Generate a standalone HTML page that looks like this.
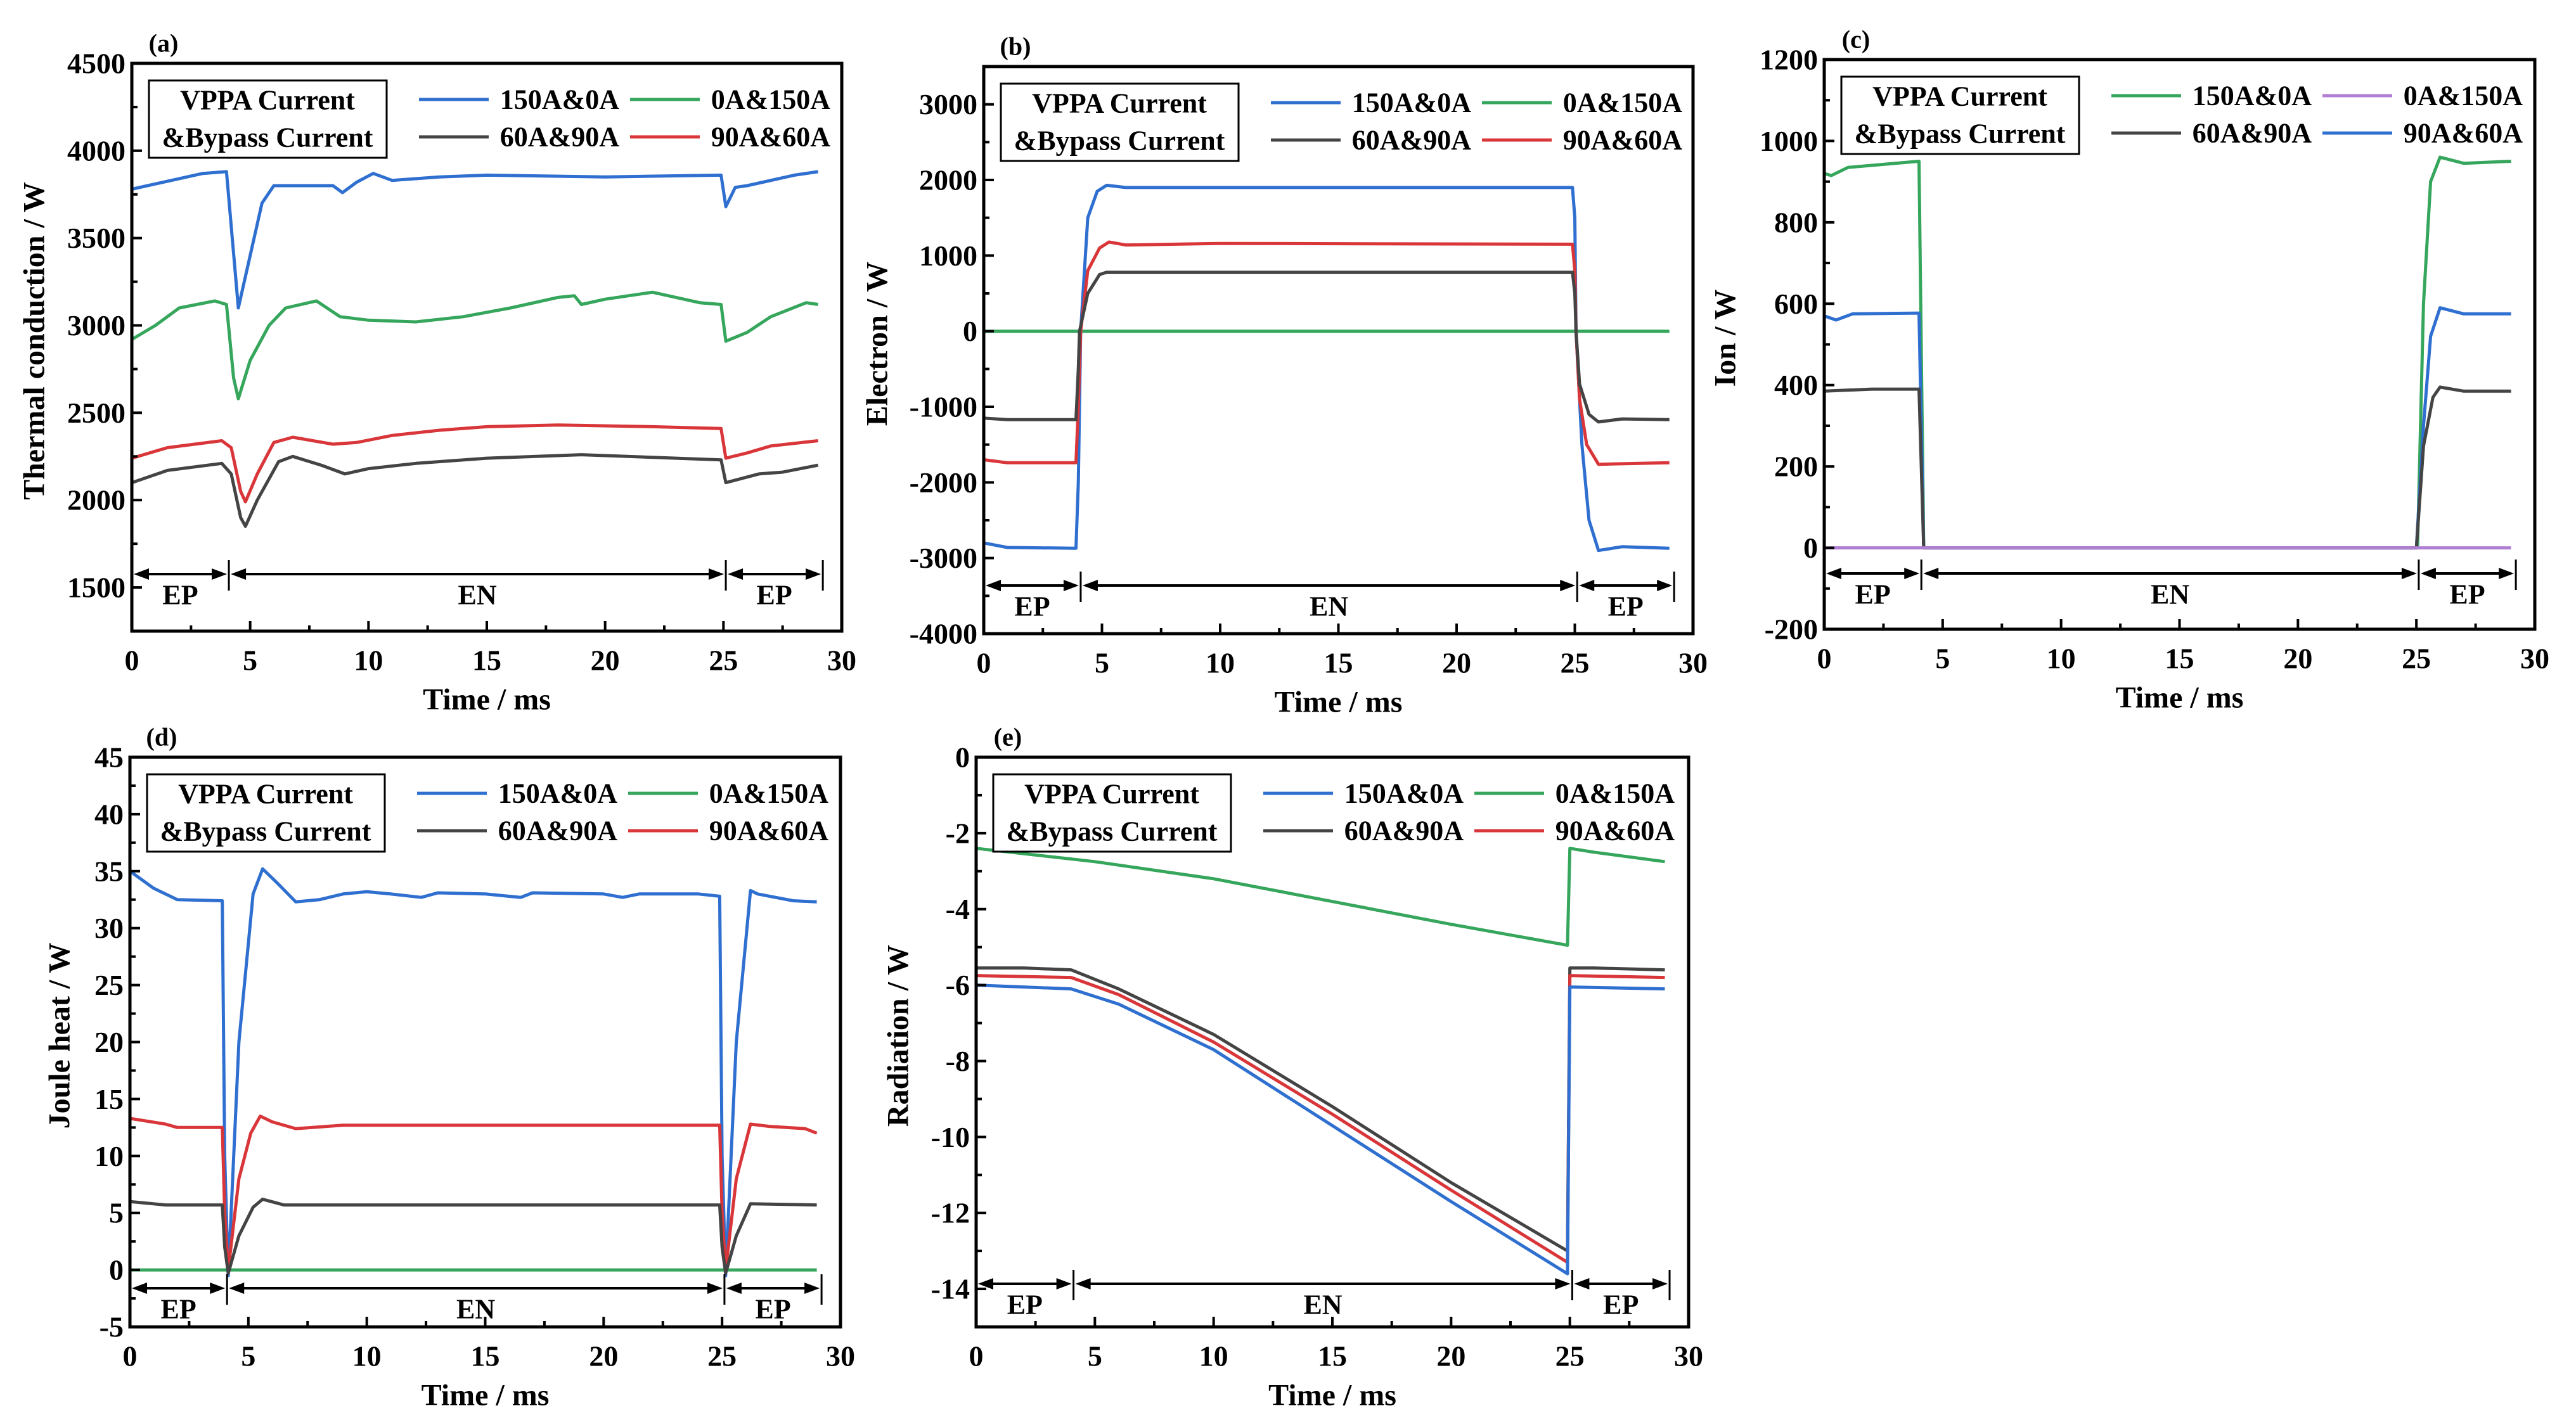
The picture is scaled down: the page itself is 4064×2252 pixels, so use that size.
<!DOCTYPE html>
<html><head><meta charset="utf-8"><style>
html,body{margin:0;padding:0;background:#fff;}
svg{display:block;}
text{font-family:"Liberation Serif",serif;font-weight:bold;fill:#000;}
</style></head>
<body>
<svg id="fig" width="4064" height="2252" viewBox="0 0 4064 2252" xmlns="http://www.w3.org/2000/svg"></svg>
<script>
// ---- shared
const xTicks = [0,5,10,15,20,25,30];
const legendLabels = ["150A&0A","0A&150A","60A&90A","90A&60A"];

// ---- (a) thermal conduction
const aYTicks = [1500,2000,2500,3000,3500,4000,4500];
const aBlueT = [0,3,4,4.5,5.5,6,8.5,8.9,9.5,10.2,11,13,15,20,24.9,25.1,25.5,26,28,29];
const aBlueV = [3780,3870,3880,3100,3700,3800,3800,3760,3820,3870,3830,3850,3860,3850,3860,3680,3790,3800,3860,3880];
const aGreenT = [0,1,2,3.5,4,4.3,4.5,5,5.8,6.5,7.8,8.8,10,12,14,16,18,18.7,19,20,22,24,24.9,25.1,26,27,28.5,29];
const aGreenV = [2920,3000,3100,3140,3120,2700,2580,2800,3000,3100,3140,3050,3030,3020,3050,3100,3160,3170,3120,3150,3190,3130,3120,2910,2960,3050,3130,3120];
const aRedT = [0,1.5,3.8,4.2,4.6,4.8,5.3,6,6.8,8.5,9.5,11,13,15,18,22,24.9,25.1,26,27,29];
const aRedV = [2240,2300,2340,2300,2050,1990,2150,2330,2360,2320,2330,2370,2400,2420,2430,2420,2410,2240,2270,2310,2340];
const aBlackT = [0,1.5,3.8,4.2,4.6,4.8,5.3,6.2,6.8,8,9,10,12,15,19,23,24.9,25.1,26.5,27.5,29];
const aBlackV = [2100,2170,2210,2150,1900,1850,2000,2220,2250,2200,2150,2180,2210,2240,2260,2240,2230,2100,2150,2160,2200];

// ---- (b) electron
const bYTicks = [-4000,-3000,-2000,-1000,0,1000,2000,3000];
const bBlueT = [0,1,3.9,4.0,4.1,4.4,4.8,5.2,6,24.9,25,25.05,25.3,25.6,26,27,29];
const bBlueV = [-2800,-2860,-2870,-2000,0,1500,1850,1930,1900,1900,1500,0,-1500,-2500,-2900,-2850,-2870];
const bRedT = [0,1,3.9,4.0,4.1,4.4,4.9,5.3,6,10,24.9,25,25.05,25.2,25.5,26,29];
const bRedV = [-1700,-1740,-1740,-1000,0,800,1100,1180,1140,1160,1150,800,0,-900,-1500,-1760,-1740];
const bBlackT = [0,1,3.9,4.0,4.05,4.4,4.9,5.2,24.9,25,25.05,25.2,25.6,26,27,29];
const bBlackV = [-1150,-1170,-1170,-500,0,500,750,780,780,500,0,-700,-1100,-1200,-1160,-1170];
const bGreenT = [0,29];
const bGreenV = [0,0];

// ---- (c) ion
const cYTicks = [-200,0,200,400,600,800,1000,1200];
const cGreenT = [0,0.3,1,3,4.0,4.2,24.9,25.05,25.3,25.6,26,27,29];
const cGreenV = [920,915,935,945,950,0,0,0,600,900,960,945,950];
const cBlueT = [0,0.5,1.2,4.0,4.2,25,25.3,25.6,26,27,29];
const cBlueV = [570,560,575,577,0,0,300,520,590,575,575];
const cBlackT = [0,2,4.0,4.2,25,25.3,25.7,26,27,29];
const cBlackV = [385,390,390,0,0,250,370,395,385,385];
const cPurpleT = [0,29];
const cPurpleV = [0,0];

// ---- (d) joule heat
const dYTicks = [-5,0,5,10,15,20,25,30,35,40,45];
const dBlueT = [0,1,2,3.9,4.0,4.15,4.6,5.2,5.6,6.2,7,8,9,10,11,12.3,13,15,16.5,17,20,20.8,21.5,24,24.9,25,25.15,25.6,26.2,26.5,28,29];
const dBlueV = [35,33.5,32.5,32.4,10,-0.5,20,33,35.2,34,32.3,32.5,33,33.2,33,32.7,33.1,33,32.7,33.1,33,32.7,33,33,32.8,10,-0.5,20,33.3,33,32.4,32.3];
const dRedT = [0,1.5,2,3.9,4.0,4.15,4.6,5.1,5.5,6,7,9,24.9,25,25.15,25.6,26.2,27,28.5,29];
const dRedV = [13.3,12.8,12.5,12.5,5,0,8,12,13.5,13,12.4,12.7,12.7,5,0,8,12.8,12.6,12.4,12];
const dBlackT = [0,1.5,3.9,4.0,4.15,4.6,5.2,5.6,6.5,24.9,25,25.15,25.6,26.2,29];
const dBlackV = [6,5.7,5.7,2,-0.3,3,5.5,6.2,5.7,5.7,2,-0.3,3,5.8,5.7];
const dGreenT = [0,29];
const dGreenV = [0,0];

// ---- (e) radiation
const eYTicks = [-14,-12,-10,-8,-6,-4,-2,0];
const eGreenT = [0,5,10,15,20,24.9,25,26,29];
const eGreenV = [-2.4,-2.75,-3.2,-3.8,-4.4,-4.95,-2.4,-2.5,-2.75];
const eBlackT = [0,2,4,6,10,15,20,24.9,25,26,29];
const eBlackV = [-5.55,-5.55,-5.6,-6.1,-7.3,-9.2,-11.2,-13.0,-5.55,-5.55,-5.6];
const eRedT = [0,4,6,10,15,20,24.9,25,29];
const eRedV = [-5.75,-5.8,-6.25,-7.5,-9.4,-11.4,-13.3,-5.75,-5.8];
const eBlueT = [0,4,6,10,15,20,24.9,25,29];
const eBlueV = [-6.0,-6.1,-6.5,-7.7,-9.7,-11.7,-13.6,-6.05,-6.1];

const C = {blue:"#2f6fd0", green:"#35a65c", red:"#d9363a", black:"#444444", purple:"#b07fd4"};
const NS = "http://www.w3.org/2000/svg";
const svg = document.getElementById("fig");

function mk(tag, attrs, parent){
  const el = document.createElementNS(NS, tag);
  for (const k in attrs) el.setAttribute(k, attrs[k]);
  (parent||svg).appendChild(el);
  return el;
}
function txt(parent, x, y, s, size, anchor, rot){
  const t = mk("text", {x:x, y:y, "font-size":size, "text-anchor":anchor||"middle", "dominant-baseline":"central"}, parent);
  if (rot) t.setAttribute("transform", "rotate(-90 "+x+" "+y+")");
  t.textContent = s;
  return t;
}

function panel(cfg){
  const g = mk("g", {});
  
  
  const L=cfg.L,R=cfg.R,T=cfg.T,B=cfg.B;
  const sx = v => L + (v-0)/(30-0)*(R-L);
  const sy = v => B - (v-cfg.ymin)/(cfg.ymax-cfg.ymin)*(B-T);
  cfg.series.forEach(s=>{
    let d="";
    s.t.forEach((tv,i)=>{ d += (i?"L":"M")+sx(tv).toFixed(1)+" "+sy(s.v[i]).toFixed(1); });
    const p = mk("path",{d:d, fill:"none", stroke:s.c, "stroke-width":5, "stroke-linejoin":"round"}, g);
    
    
  });
  const fr = mk("rect",{x:L,y:T,width:R-L,height:B-T,fill:"none",stroke:"#000","stroke-width":5}, g);
  
  
  for (let v=0; v<=30; v+=2.5){
    const major = (v%5===0);
    const x = sx(v);
    mk("line",{x1:x,y1:B,x2:x,y2:B-(major?16:9),stroke:"#000","stroke-width":4}, g);
  }
  xTicks.forEach(v=>{
    const t = txt(g, sx(v), B+46, String(v), 46);
    
    
  });
  const yt = cfg.yticks, step = yt[1]-yt[0];
  for (let v=cfg.ymin; v<=cfg.ymax+1e-9; v+=step/2){
    const major = yt.some(a=>Math.abs(a-v)<1e-9);
    const y = sy(v);
    mk("line",{x1:L,y1:y,x2:L+(major?16:9),y2:y,stroke:"#000","stroke-width":4}, g);
  }
  yt.forEach(v=>{
    const t = txt(g, L-10, sy(v), String(v), 46, "end");
    
    
  });
  const xt = txt(g, (L+R)/2, B+108, "Time / ms", 48);
  
  
  const ytl = txt(g, cfg.ytx, (T+B)/2 - 10, cfg.ytitle, 48, "middle", true);
  
  
  const pl = txt(g, L+50, T-32, "("+cfg.id+")", 40);
  
  
  const lg = mk("g",{}, g);
  
  
  mk("rect",{x:L+27,y:T+27,width:375,height:122,fill:"#fff",stroke:"#000","stroke-width":3}, lg);
  txt(lg, L+214, T+58, "VPPA Current", 44);
  txt(lg, L+214, T+117, "&Bypass Current", 44);
  cfg.legend.forEach((e,i)=>{
    const col = i%2, row = Math.floor(i/2);
    const x0 = L + (col? 786 : 453), y0 = T + (row? 116 : 57);
    const le = mk("g",{}, lg);
    
    
    mk("line",{x1:x0,y1:y0,x2:x0+110,y2:y0,stroke:e.c,"stroke-width":5}, le);
    txt(le, x0+316, y0, legendLabels[i], 44, "end");
  });
  const ag = mk("g",{}, g);
  
  
  const ay = B - cfg.arrowOff;
  const segs = [[0,4.1,"EP"],[4.1,25.1,"EN"],[25.1,29.2,"EP"]];
  segs.forEach(s=>{
    const x1=sx(s[0])+3, x2=sx(s[1])-3;
    mk("line",{x1:x1+14,y1:ay,x2:x2-14,y2:ay,stroke:"#000","stroke-width":4}, ag);
    mk("polygon",{points:`${x1},${ay} ${x1+24},${ay-9} ${x1+24},${ay+9}`,fill:"#000"}, ag);
    mk("polygon",{points:`${x2},${ay} ${x2-24},${ay-9} ${x2-24},${ay+9}`,fill:"#000"}, ag);
    txt(ag, (sx(s[0])+sx(s[1]))/2, ay+33, s[2], 44);
  });
  [4.1,25.1,29.2].forEach(v=>{
    mk("line",{x1:sx(v),y1:ay-22,x2:sx(v),y2:ay+26,stroke:"#000","stroke-width":3}, ag);
  });
}

panel({id:"a",L:208,R:1328,T:100,B:996,ymin:1250,ymax:4500,yticks:aYTicks,ytx:54,ytitle:"Thermal conduction / W",arrowOff:90,
  legend:[{c:C.blue},{c:C.green},{c:C.black},{c:C.red}],
  series:[{name:"150A-0A",t:aBlueT,v:aBlueV,c:C.blue},{name:"0A-150A",t:aGreenT,v:aGreenV,c:C.green},{name:"90A-60A",t:aRedT,v:aRedV,c:C.red},{name:"60A-90A",t:aBlackT,v:aBlackV,c:C.black}]});
panel({id:"b",L:1552,R:2671,T:105,B:1000,ymin:-4000,ymax:3500,yticks:bYTicks,ytx:1384,ytitle:"Electron / W",arrowOff:76,
  legend:[{c:C.blue},{c:C.green},{c:C.black},{c:C.red}],
  series:[{name:"0A-150A",t:bGreenT,v:bGreenV,c:C.green},{name:"150A-0A",t:bBlueT,v:bBlueV,c:C.blue},{name:"90A-60A",t:bRedT,v:bRedV,c:C.red},{name:"60A-90A",t:bBlackT,v:bBlackV,c:C.black}]});
panel({id:"c",L:2878,R:3999,T:94,B:993,ymin:-200,ymax:1200,yticks:cYTicks,ytx:2722,ytitle:"Ion / W",arrowOff:88,
  legend:[{c:C.green},{c:C.purple},{c:C.black},{c:C.blue}],
  series:[{name:"150A-0A",t:cGreenT,v:cGreenV,c:C.green},{name:"90A-60A",t:cBlueT,v:cBlueV,c:C.blue},{name:"60A-90A",t:cBlackT,v:cBlackV,c:C.black},{name:"0A-150A",t:cPurpleT,v:cPurpleV,c:C.purple}]});
panel({id:"d",L:205,R:1326,T:1195,B:2094,ymin:-5,ymax:45,yticks:dYTicks,ytx:94,ytitle:"Joule heat / W",arrowOff:61,
  legend:[{c:C.blue},{c:C.green},{c:C.black},{c:C.red}],
  series:[{name:"0A-150A",t:dGreenT,v:dGreenV,c:C.green},{name:"150A-0A",t:dBlueT,v:dBlueV,c:C.blue},{name:"90A-60A",t:dRedT,v:dRedV,c:C.red},{name:"60A-90A",t:dBlackT,v:dBlackV,c:C.black}]});
panel({id:"e",L:1540,R:2664,T:1195,B:2094,ymin:-15,ymax:0,yticks:eYTicks,ytx:1417,ytitle:"Radiation / W",arrowOff:68,
  legend:[{c:C.blue},{c:C.green},{c:C.black},{c:C.red}],
  series:[{name:"0A-150A",t:eGreenT,v:eGreenV,c:C.green},{name:"60A-90A",t:eBlackT,v:eBlackV,c:C.black},{name:"90A-60A",t:eRedT,v:eRedV,c:C.red},{name:"150A-0A",t:eBlueT,v:eBlueV,c:C.blue}]});
</script>
</body></html>
